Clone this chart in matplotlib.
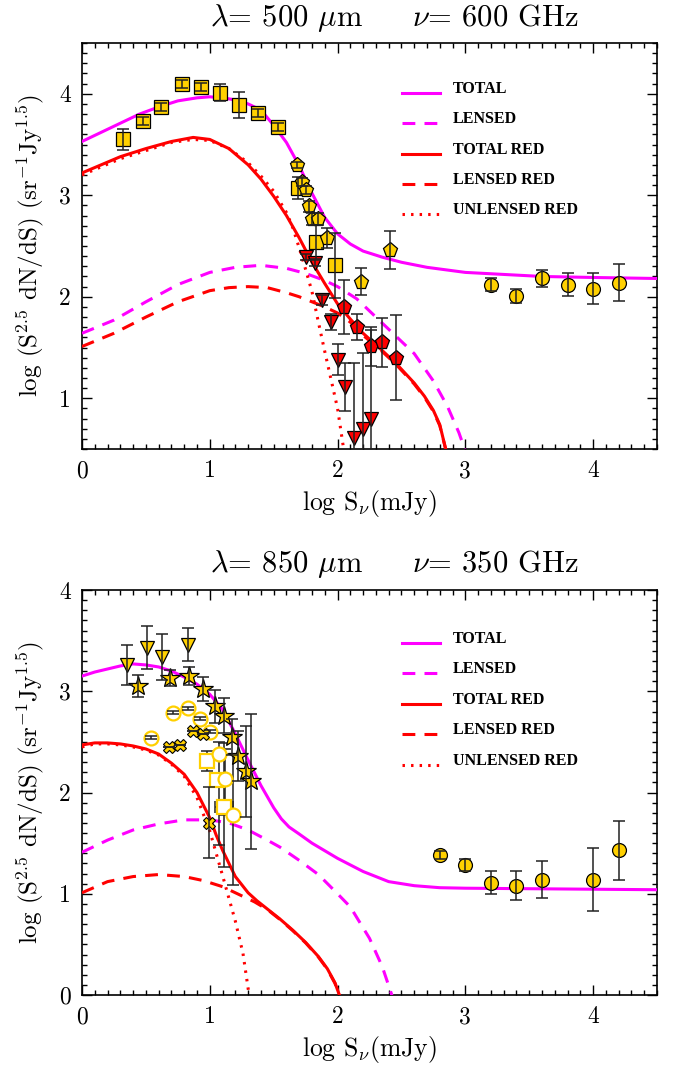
import numpy as np
import matplotlib
matplotlib.use("Agg")
import matplotlib.pyplot as plt
from matplotlib.ticker import MultipleLocator

plt.rcParams['font.family'] = ['cmr10', 'DejaVu Serif']
plt.rcParams['mathtext.fontset'] = 'cm'
plt.rcParams['axes.formatter.use_mathtext'] = True

GOLD = '#FFD000'
MAG = '#FF00FF'
RED = '#FF0000'

# ---------------- 500 micron model curves ----------------
t500_x = [0.0, 0.15, 0.3, 0.45, 0.6, 0.75, 0.9, 1.0, 1.1, 1.2, 1.3, 1.4, 1.5, 1.6, 1.7, 1.8,
          1.9, 2.0, 2.1, 2.2, 2.35, 2.5, 2.7, 3.0, 3.3, 3.6, 4.0, 4.5]
t500_y = [3.53, 3.62, 3.71, 3.80, 3.87, 3.93, 3.96, 3.97, 3.96, 3.94, 3.90, 3.84, 3.69, 3.52, 3.29, 3.02,
          2.78, 2.62, 2.52, 2.45, 2.39, 2.34, 2.29, 2.24, 2.22, 2.20, 2.19, 2.18]

l500_x = [0.0, 0.25, 0.5, 0.75, 1.0, 1.2, 1.4, 1.6, 1.75, 1.9, 2.0, 2.15, 2.3, 2.45, 2.6, 2.75, 2.86, 2.95, 3.0]
l500_y = [1.64, 1.77, 1.95, 2.12, 2.24, 2.29, 2.31, 2.28, 2.23, 2.16, 2.10, 1.98, 1.80, 1.62, 1.44, 1.17, 0.92, 0.66, 0.48]

tr500_x = [0.0, 0.15, 0.3, 0.5, 0.7, 0.87, 1.0, 1.15, 1.3, 1.4, 1.5, 1.6, 1.7, 1.8, 1.9, 2.0,
           2.1, 2.2, 2.35, 2.46, 2.6, 2.68, 2.75, 2.8, 2.85]
tr500_y = [3.22, 3.30, 3.38, 3.46, 3.53, 3.57, 3.55, 3.46, 3.30, 3.16, 2.99, 2.80, 2.58, 2.34, 2.13, 1.93,
           1.78, 1.64, 1.47, 1.34, 1.15, 1.02, 0.88, 0.74, 0.48]

lr500_x = [0.0, 0.25, 0.5, 0.75, 1.0, 1.15, 1.3, 1.45, 1.6, 1.7, 1.8, 1.9, 2.0, 2.1, 2.2, 2.35,
           2.46, 2.6, 2.68, 2.75, 2.8, 2.85]
lr500_y = [1.51, 1.64, 1.80, 1.95, 2.06, 2.09, 2.10, 2.09, 2.04, 2.00, 1.95, 1.90, 1.84, 1.75, 1.62, 1.46,
           1.33, 1.14, 1.01, 0.87, 0.73, 0.48]

ur500_x = [0.0, 0.15, 0.3, 0.5, 0.7, 0.87, 1.0, 1.15, 1.3, 1.4, 1.5, 1.6, 1.65, 1.7, 1.75, 1.8,
           1.85, 1.9, 1.95, 2.0, 2.05]
ur500_y = [3.20, 3.28, 3.36, 3.44, 3.52, 3.55, 3.54, 3.46, 3.32, 3.19, 3.04, 2.83, 2.68, 2.48, 2.27, 2.05,
           1.75, 1.46, 1.18, 0.90, 0.48]

# ---------------- 500 micron data ----------------
sq500_x = [0.32, 0.48, 0.62, 0.78, 0.93, 1.08, 1.23, 1.38, 1.53, 1.69, 1.83, 1.98]
sq500_y = [3.55, 3.73, 3.87, 4.10, 4.07, 4.01, 3.89, 3.81, 3.67, 3.07, 2.54, 2.31]
sq500_e = [0.10, 0.04, 0.04, 0.04, 0.04, 0.085, 0.13, 0.04, 0.04, 0.11, 0.17, 0.32]

pg500_x = [1.68, 1.72, 1.75, 1.78, 1.80, 1.85, 1.92, 2.18, 2.41]
pg500_y = [3.30, 3.13, 3.05, 2.89, 2.77, 2.77, 2.58, 2.15, 2.46]
pg500_e = [0.03, 0.04, 0.04, 0.05, 0.06, 0.06, 0.10, 0.13, 0.19]

tri500_x = [1.754, 1.82, 1.88, 1.95, 2.00, 2.06, 2.13, 2.20, 2.26]
tri500_y = [2.39, 2.33, 1.97, 1.75, 1.38, 1.11, 0.61, 0.70, 0.80]
tri500_lo = [0.03, 0.03, 0.05, 0.08, 0.15, 0.24, 0.80, 0.80, 0.80]
tri500_hi = [0.03, 0.03, 0.05, 0.08, 0.15, 0.24, 0.74, 0.75, 0.87]

rp500_x = [2.05, 2.15, 2.26, 2.35, 2.46]
rp500_y = [1.90, 1.70, 1.51, 1.55, 1.40]
rp500_e = [0.27, 0.13, 0.19, 0.24, 0.42]

ci500_x = [3.2, 3.4, 3.6, 3.8, 4.0, 4.2]
ci500_y = [2.12, 2.01, 2.18, 2.12, 2.08, 2.14]
ci500_e = [0.06, 0.07, 0.085, 0.11, 0.15, 0.18]

# ---------------- 850 micron model curves ----------------
t850_x = [0.0, 0.1, 0.2, 0.3, 0.4, 0.5, 0.6, 0.7, 0.8, 0.9, 1.0, 1.1, 1.2, 1.3, 1.4, 1.5,
          1.56, 1.62, 1.7, 1.8, 2.0, 2.2, 2.4, 2.6, 2.8, 3.0, 3.5, 4.0, 4.5]
t850_y = [3.15, 3.19, 3.22, 3.25, 3.27, 3.26, 3.24, 3.20, 3.14, 3.07, 2.97, 2.82, 2.58, 2.32, 2.07, 1.85,
          1.74, 1.66, 1.59, 1.50, 1.35, 1.22, 1.12, 1.08, 1.06, 1.055, 1.05, 1.045, 1.04]

l850_x = [0.0, 0.2, 0.4, 0.6, 0.8, 1.0, 1.15, 1.3, 1.45, 1.55, 1.7, 1.85, 2.0, 2.1, 2.25, 2.35, 2.43]
l850_y = [1.41, 1.53, 1.63, 1.69, 1.73, 1.73, 1.70, 1.63, 1.53, 1.46, 1.33, 1.19, 1.00, 0.87, 0.56, 0.28, -0.02]

tr850_x = [0.0, 0.1, 0.2, 0.3, 0.4, 0.5, 0.6, 0.7, 0.8, 0.9, 1.0, 1.05, 1.1, 1.2, 1.3, 1.37,
           1.45, 1.55, 1.65, 1.75, 1.85, 1.92, 1.98, 2.02]
tr850_y = [2.47, 2.49, 2.49, 2.48, 2.46, 2.43, 2.38, 2.29, 2.18, 2.00, 1.75, 1.58, 1.43, 1.17, 1.01, 0.93,
           0.85, 0.75, 0.64, 0.52, 0.38, 0.26, 0.12, -0.02]

lr850_x = [0.0, 0.2, 0.4, 0.6, 0.8, 0.95, 1.1, 1.25, 1.35, 1.45, 1.55, 1.65, 1.75, 1.85, 1.92, 1.98, 2.02]
lr850_y = [1.01, 1.12, 1.17, 1.19, 1.17, 1.13, 1.07, 0.98, 0.92, 0.845, 0.745, 0.635, 0.515, 0.375, 0.255, 0.115, -0.02]

ur850_x = [0.0, 0.1, 0.2, 0.3, 0.4, 0.5, 0.6, 0.7, 0.8, 0.9, 1.0, 1.1, 1.2, 1.26, 1.31]
ur850_y = [2.45, 2.48, 2.48, 2.47, 2.45, 2.42, 2.37, 2.28, 2.16, 1.95, 1.62, 1.18, 0.73, 0.41, -0.02]

# ---------------- 850 micron data ----------------
dt850_x = [0.355, 0.51, 0.63, 0.83]
dt850_y = [3.26, 3.43, 3.34, 3.46]
dt850_e = [0.20, 0.21, 0.23, 0.16]

st850_x = [0.44, 0.69, 0.84, 0.95, 1.04, 1.11, 1.17, 1.22, 1.28, 1.32]
st850_y = [3.05, 3.13, 3.15, 3.02, 2.85, 2.76, 2.55, 2.36, 2.21, 2.11]
st850_e = [0.11, 0.08, 0.09, 0.12, 0.16, 0.17, 0.18, 0.25, 0.45, 0.67]

oc850_x = [0.54, 0.715, 0.83, 0.92, 1.00]
oc850_y = [2.54, 2.79, 2.83, 2.73, 2.60]
oc850_e = [0.015, 0.015, 0.015, 0.015, 0.015]

oce850_x = [1.07, 1.12, 1.18]
oce850_y = [2.38, 2.13, 1.78]
oce850_lo = [0.90, 0.35, 0.69]
oce850_hi = [0.12, 0.30, 0.60]

os850_x = [0.98, 1.06, 1.11]
os850_y = [2.31, 2.12, 1.86]
os850_lo = [0.10, 0.03, 0.60]
os850_hi = [0.10, 0.03, 0.63]
os850_xe = [0.0, 0.0, 0.07]

cx850_x = [0.68, 0.77, 0.87, 0.945, 0.99]
cx850_y = [2.45, 2.47, 2.61, 2.58, 1.70]
cx850_e = [0.0, 0.0, 0.0, 0.0, 0.35]

ci850_x = [2.8, 3.0, 3.2, 3.4, 3.6, 4.0, 4.2]
ci850_y = [1.38, 1.28, 1.11, 1.08, 1.14, 1.14, 1.43]
ci850_e = [0.04, 0.06, 0.11, 0.14, 0.18, 0.31, 0.29]

legend_labels = ['TOTAL', 'LENSED', 'TOTAL RED', 'LENSED RED', 'UNLENSED RED']

LW = 2.2
DASH = (0, (4.2, 3.0))
DOT = (0, (0.8, 2.0))


def err(ax, x, y, e, z=6):
    ax.errorbar(x, y, yerr=e, fmt='none', ecolor='#222222', elinewidth=1.1,
                capsize=4, capthick=1.1, zorder=z)


def marks(ax, x, y, marker, ms, fc=GOLD, ec='black', mew=0.9, z=5):
    ax.plot(x, y, ls='none', marker=marker, ms=ms, mfc=fc, mec=ec, mew=mew, zorder=z)


def models(ax, curves, legend_y):
    styles = [dict(color=MAG, ls='-', lw=LW), dict(color=MAG, ls=DASH, lw=LW),
              dict(color=RED, ls='-', lw=LW), dict(color=RED, ls=DASH, lw=LW),
              dict(color=RED, ls=DOT, lw=LW)]
    for (cx, cy), st in zip(curves, styles):
        ax.plot(cx, cy, zorder=3, **st)
    for lab, st, ly in zip(legend_labels, styles, legend_y):
        ax.plot([0.557, 0.623], [ly, ly], transform=ax.transAxes, clip_on=False, **st)
        ax.text(0.645, ly, lab, transform=ax.transAxes, fontsize=11.5, va='baseline',
                family=['Liberation Serif'], fontweight='bold')


def frame(ax, ylim, yticks):
    ax.set_xlim(0, 4.5)
    ax.set_ylim(*ylim)
    ax.set_xticks([0, 1, 2, 3, 4])
    ax.set_xticklabels(['0', '1', '2', '3', '4'])
    ax.set_yticks(yticks)
    ax.set_yticklabels([str(t) for t in yticks])
    ax.xaxis.set_minor_locator(MultipleLocator(0.1))
    ax.yaxis.set_minor_locator(MultipleLocator(0.1))
    ax.tick_params(which='both', direction='in', top=True, right=True, width=1.0, labelsize=17)
    ax.tick_params(which='major', length=7.5, pad=8)
    ax.tick_params(which='minor', length=3.8)
    for s in ax.spines.values():
        s.set_linewidth(1.2)
    ax.set_xlabel(r'log S$_\nu$(mJy)', fontsize=18.5, labelpad=4)
    ax.set_ylabel(r'log (S$^{2.5}$ dN/dS) (sr$^{-1}$Jy$^{1.5}$)', fontsize=18)
    ax.yaxis.set_label_coords(-0.062, 0.5)


fig = plt.figure(figsize=(6.76, 10.65), dpi=100)
ax1 = fig.add_axes([0.1213, 0.5784, 0.8506, 0.3812])
ax2 = fig.add_axes([0.1213, 0.0657, 0.8506, 0.3803])

# 500 micron panel
models(ax1, [(t500_x, t500_y), (l500_x, l500_y), (tr500_x, tr500_y), (lr500_x, lr500_y),
             (ur500_x, ur500_y)], [0.878, 0.804, 0.727, 0.653, 0.579])
marks(ax1, sq500_x, sq500_y, 's', 10)
err(ax1, sq500_x, sq500_y, sq500_e)
marks(ax1, pg500_x, pg500_y, 'p', 11)
err(ax1, pg500_x, pg500_y, pg500_e)
marks(ax1, tri500_x, tri500_y, 'v', 10, fc=RED)
err(ax1, tri500_x, tri500_y, [tri500_lo, tri500_hi])
marks(ax1, rp500_x, rp500_y, 'p', 11, fc=RED)
err(ax1, rp500_x, rp500_y, rp500_e)
marks(ax1, ci500_x, ci500_y, 'o', 10)
err(ax1, ci500_x, ci500_y, ci500_e)
frame(ax1, (0.5, 4.5), [1, 2, 3, 4])
fig.text(0.584, 0.983, r'$\lambda$= 500 $\mu$m     $\nu$= 600 GHz', fontsize=22,
         ha='center', va='center')

# 850 micron panel
models(ax2, [(t850_x, t850_y), (l850_x, l850_y), (tr850_x, tr850_y), (lr850_x, lr850_y),
             (ur850_x, ur850_y)], [0.869, 0.795, 0.719, 0.644, 0.568])
marks(ax2, dt850_x, dt850_y, 'v', 10)
err(ax2, dt850_x, dt850_y, dt850_e)
err(ax2, oce850_x, oce850_y, [oce850_lo, oce850_hi], z=4)
ax2.errorbar(os850_x, os850_y, yerr=[os850_lo, os850_hi], xerr=os850_xe, fmt='none',
             ecolor='#222222', elinewidth=1.1, capsize=4, capthick=1.1, zorder=4)
marks(ax2, os850_x, os850_y, 's', 10, fc='white', ec=GOLD, mew=1.6)
marks(ax2, oce850_x, oce850_y, 'o', 10, fc='white', ec=GOLD, mew=1.6)
marks(ax2, oc850_x, oc850_y, 'o', 10, fc='white', ec=GOLD, mew=1.6)
err(ax2, oc850_x, oc850_y, oc850_e)
marks(ax2, cx850_x, cx850_y, 'X', 9, fc=GOLD, ec='black', mew=0.8)
err(ax2, cx850_x, cx850_y, cx850_e)
marks(ax2, st850_x, st850_y, '*', 15)
err(ax2, st850_x, st850_y, st850_e)
marks(ax2, ci850_x, ci850_y, 'o', 10)
err(ax2, ci850_x, ci850_y, ci850_e)
frame(ax2, (0, 4), [0, 1, 2, 3, 4])
fig.text(0.584, 0.470, r'$\lambda$= 850 $\mu$m     $\nu$= 350 GHz', fontsize=22,
         ha='center', va='center')

fig.savefig('out.png', dpi=100)
